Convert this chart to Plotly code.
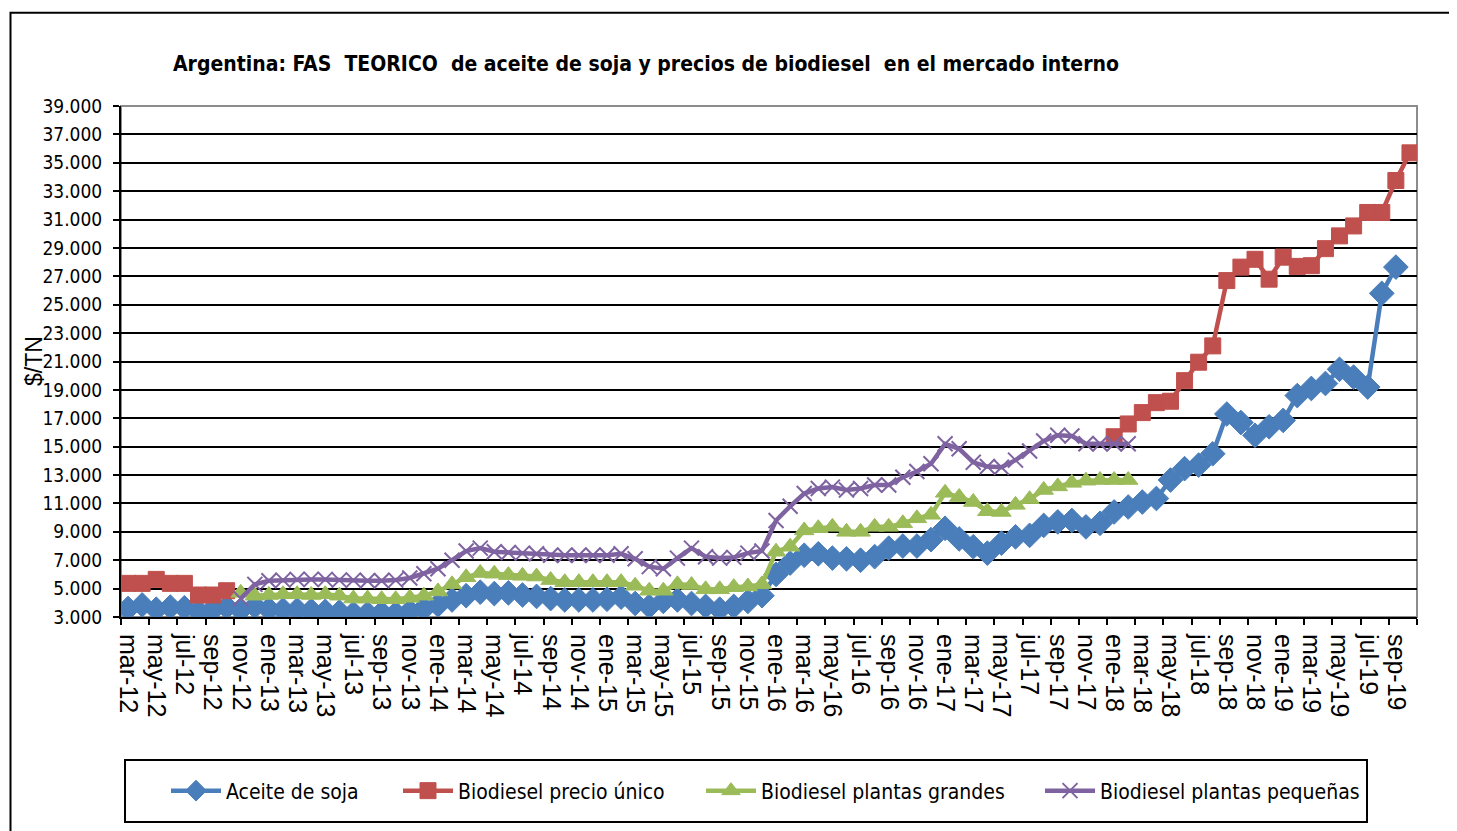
import plotly.graph_objects as go

# ---------------- data ----------------
month_abbr = ["ene", "feb", "mar", "abr", "may", "jun", "jul", "ago", "sep", "oct", "nov", "dic"]
start_year, start_month, n_months = 2012, 2, 92   # mar-12 .. oct-19
categories = []
for k in range(n_months):
    m = (start_month + k) % 12
    y = start_year + (start_month + k) // 12
    categories.append(f"{month_abbr[m]}-{str(y)[2:]}")

aceite_soja = [
    3600, 3850, 3550, 3700, 3650, 3400, 3500, 3700, 3500, 3750,
    3550, 3500, 3500, 3450, 3400, 3350, 3250, 3250, 3300, 3250,
    3400, 3600, 3850, 4200, 4500, 4750, 4650, 4700, 4550, 4450,
    4300, 4200, 4200, 4200, 4250, 4400, 3950, 3750, 4100, 4200,
    3950, 3750, 3550, 3750, 4100, 4500, 6000, 6800, 7350, 7450,
    7150, 7100, 7000, 7250, 7850, 8000, 8000, 8450, 9250, 8500,
    7950, 7500, 8200, 8650, 8750, 9450, 9700, 9800, 9350, 9600,
    10400, 10750, 11100, 11350, 12650, 13450, 13700, 14500, 17300, 16700,
    15800, 16400, 16850, 18600, 19100, 19450, 20450, 19900, 19200, 25800,
    27650, None,
]

precio_unico = (
    [5370, 5370, 5650, 5370, 5370, 4550, 4550, 4850]
    + [None] * 62
    + [15700, 16600, 17400, 18100, 18200, 19650, 20950, 22100, 26700, 27650,
       28200, 26800, 28350, 27700, 27750, 28950, 29850, 30550, 31500, 31500,
       33750, 35700]
)

plantas_grandes = (
    [None] * 8
    + [4700, 4500, 4550, 4600, 4600, 4550, 4600, 4500, 4300, 4300,
       4250, 4250, 4350, 4500, 4800, 5300, 5800, 6100, 6050, 5950,
       5900, 5850, 5600, 5450, 5450, 5450, 5450, 5450, 5200, 4850,
       4850, 5300, 5250, 4950, 4950, 5100, 5150, 5300, 7600, 7950,
       9100, 9250, 9350, 9000, 9000, 9350, 9350, 9600, 9950, 10200,
       11750, 11450, 11100, 10450, 10400, 10900, 11300, 11950, 12200, 12450,
       12600, 12650, 12650, 12650]
    + [None] * 20
)

plantas_pequenas = (
    [None] * 8
    + [4300, 5300, 5550, 5600, 5650, 5650, 5650, 5600, 5600, 5550,
       5550, 5600, 5750, 6050, 6400, 7000, 7650, 7850, 7600, 7550,
       7500, 7450, 7350, 7350, 7350, 7350, 7350, 7450, 7100, 6550,
       6400, 7150, 7850, 7250, 7150, 7200, 7500, 7650, 9800, 10800,
       11700, 12050, 12150, 11950, 12050, 12300, 12300, 12850, 13250, 13800,
       15200, 14850, 13900, 13600, 13550, 14050, 14700, 15400, 15800, 15750,
       15200, 15200, 15200, 15200]
    + [None] * 20
)

series_names = ["Aceite de soja", "Biodiesel precio único",
                "Biodiesel plantas grandes", "Biodiesel plantas pequeñas"]
series_values = [aceite_soja, precio_unico, plantas_grandes, plantas_pequenas]

# ---------------- style ----------------
colors = ["#4A7EBB", "#C0504D", "#9BBB59", "#7F63A1"]
symbols = ["diamond", "square", "triangle-up", "x-thin"]
sizes = [19, 16, 17, 15]
legend_line_start = [172, 404, 707, 1046]   # reference pixel x of each legend entry

NARROW = "DejaVu Sans Condensed, Liberation Sans Narrow, sans-serif"
REG = "Liberation Sans, Arial, sans-serif"

OFF = 8                       # page body margin
W, H = 1457 - OFF, 831 - OFF
ML = 121 - OFF
MT = 106 - OFF
MR = W - (1417 - OFF)
MB = H - (617 - OFF)
PW, PH = W - ML - MR, H - MT - MB


def px_x(px):
    return (px - OFF - ML) / PW


def px_y(py):
    return (H - MB - (py - OFF)) / PH


fig = go.Figure()
legend_ids = ["legend", "legend2", "legend3", "legend4"]
for name, vals, col, sym, sz, lid in zip(series_names, series_values, colors, symbols, sizes, legend_ids):
    marker = dict(symbol=sym, size=sz, color=col)
    if sym == "x-thin":
        marker["line"] = dict(color=col, width=2)
    else:
        marker["line"] = dict(color=col, width=1)
    fig.add_trace(go.Scatter(
        x=categories, y=vals, name=name, mode="lines+markers",
        line=dict(color=col, width=4.5), marker=marker,
        connectgaps=False, legend=lid,
    ))

legend_common = dict(
    orientation="h", y=px_y(791), yanchor="middle", xanchor="left",
    font=dict(family=NARROW, size=21, color="black"),
    bgcolor="rgba(0,0,0,0)", itemwidth=50,
)
legend_layout = {}
for lid, lx in zip(legend_ids, legend_line_start):
    legend_layout[lid] = dict(legend_common, x=px_x(lx - 6))

fig.update_layout(
    width=W, height=H,
    margin=dict(l=ML, r=MR, t=MT, b=MB, autoexpand=False),
    paper_bgcolor="white", plot_bgcolor="white",
    separators=",.",
    title=dict(
        text="Argentina: FAS\u00a0 TEORICO\u00a0 de aceite de soja y precios de biodiesel\u00a0 en el mercado interno",
        font=dict(family=NARROW, size=21, color="black", weight="bold"),
        x=(173 - OFF) / W, xanchor="left", xref="container",
        y=1 - (64 - OFF) / H, yanchor="middle", yref="container",
    ),
    showlegend=True,
    **legend_layout,
    shapes=[
        # outer chart frame
        dict(type="rect", xref="paper", yref="paper",
             x0=px_x(10.5), x1=px_x(1530), y0=px_y(900), y1=px_y(12.7),
             line=dict(color="black", width=2), fillcolor="rgba(0,0,0,0)", layer="above"),
        # legend frame
        dict(type="rect", xref="paper", yref="paper",
             x0=px_x(125), x1=px_x(1367), y0=px_y(822), y1=px_y(760),
             line=dict(color="black", width=2), fillcolor="rgba(0,0,0,0)", layer="above"),
        # plot area border (grey)
        dict(type="rect", xref="paper", yref="paper", x0=0, x1=1, y0=0, y1=1,
             line=dict(color="#8C8C8C", width=2), fillcolor="rgba(0,0,0,0)", layer="between"),
    ],
    annotations=[
        dict(text="$/TN", textangle=-90, xref="paper", yref="paper",
             x=px_x(34), y=px_y(361), xanchor="center", yanchor="middle",
             showarrow=False, font=dict(family=REG, size=23, color="black")),
    ],
)

fig.update_xaxes(
    type="category", tickmode="linear", dtick=2, tick0=0,
    tickson="boundaries", ticks="outside", ticklen=6, tickwidth=2, tickcolor="black",
    tickangle=90, tickfont=dict(family=REG, size=25, color="black"),
    ticklabelstandoff=10,
    showgrid=False, zeroline=False,
    showline=True, linecolor="black", linewidth=2,
    range=[-0.5, n_months - 0.5],
)
fig.update_yaxes(
    range=[3000, 39000], dtick=2000, tick0=3000, tickformat=",d",
    ticks="outside", ticklen=6, tickwidth=2, tickcolor="black",
    tickfont=dict(family=NARROW, size=19, color="black"),
    ticklabelstandoff=7,
    showgrid=True, gridcolor="black", gridwidth=2,
    zeroline=False, showline=True, linecolor="black", linewidth=2,
)

fig.write_html("out.html")
